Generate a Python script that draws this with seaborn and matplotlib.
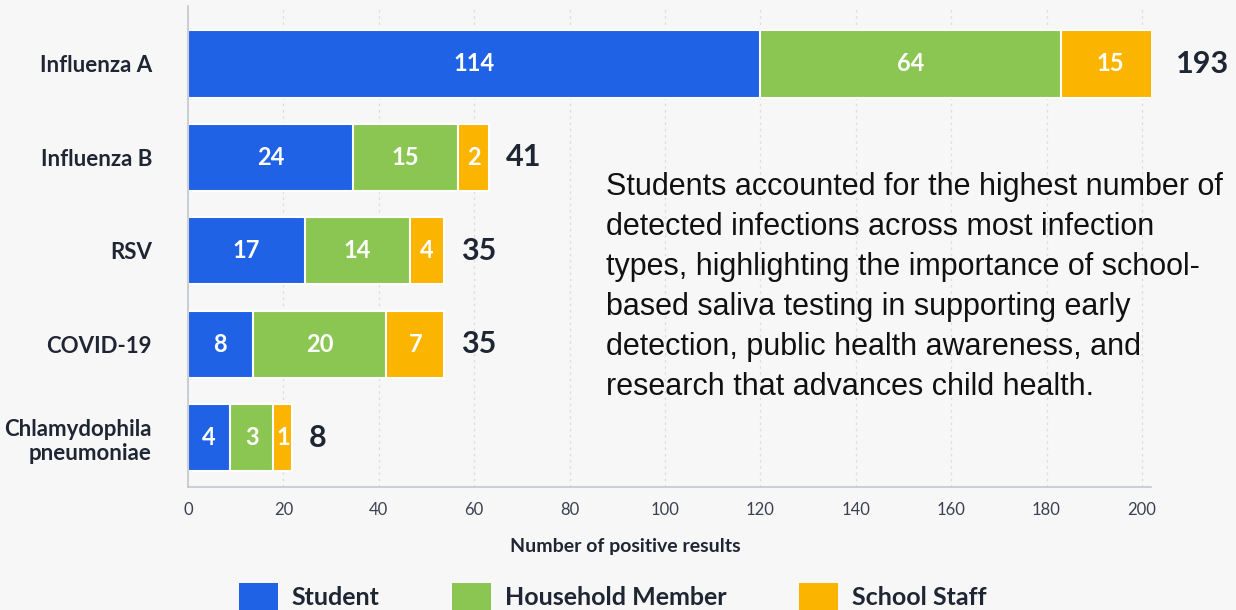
import numpy as np
import pandas as pd
import seaborn as sns
import matplotlib.pyplot as plt
from matplotlib.patches import Patch

# categories and groups
infections = ["Influenza A", "Influenza B", "RSV", "COVID-19", "Chlamydophila\npneumoniae"]
groups = ["Student", "Household Member", "School Staff"]

# counts printed inside the bars
student_n = [114, 24, 17, 8, 4]
household_n = [64, 15, 14, 20, 3]
staff_n = [15, 2, 4, 7, 1]
totals = [193, 41, 35, 35, 8]

# segment lengths as drawn in the picture (bars are not to scale with the counts)
student_len = [119.9, 34.6, 24.5, 13.6, 8.8]
household_len = [63.1, 22.1, 22.0, 28.0, 9.1]
staff_len = [20.7, 6.4, 7.2, 12.1, 4.0]

colors = ["#1f62e5", "#8bc653", "#fbb500"]
dark = "#1f2633"
bg = "#f7f7f7"

df = pd.DataFrame({"infection": infections,
                   "student": student_len,
                   "household": household_len,
                   "staff": staff_len})
df["cum1"] = df["student"]
df["cum2"] = df["cum1"] + df["household"]
df["cum3"] = df["cum2"] + df["staff"]

sns.set_theme(style="white")
plt.rcParams["font.family"] = ["Lato", "DejaVu Sans"]

fig = plt.figure(figsize=(12.36, 6.10), dpi=100, facecolor=bg)
ax = fig.add_axes([0.1521, 0.2016, 0.7795, 0.7885], facecolor=bg)

# stacked bars: draw cumulative totals back to front
for col, c in zip(["cum3", "cum2", "cum1"], colors[::-1]):
    sns.barplot(data=df, x=col, y="infection", orient="h", color=c, width=0.72,
                edgecolor="white", linewidth=1.5, saturation=1, ax=ax)

ax.set_xlim(0, 202)
ax.set_ylim(4.53, -0.62)
ax.set_xticks(np.arange(0, 201, 20))
ax.grid(axis="x", color="#dcdcdc", linestyle=(0, (2, 3)), linewidth=0.9)
ax.set_axisbelow(True)
for s in ["top", "right"]:
    ax.spines[s].set_visible(False)
ax.spines["left"].set_color("#c3c7cd")
ax.spines["bottom"].set_color("#c3c7cd")
ax.spines["left"].set_linewidth(1.2)
ax.spines["bottom"].set_linewidth(1.2)

ax.tick_params(axis="x", length=0, pad=11, labelsize=12, labelcolor="#3a4150")
ax.tick_params(axis="y", length=0, pad=26)
ax.set_yticks(range(len(infections)))
ax.set_yticklabels(infections, fontsize=16, fontweight="bold", color=dark)
ax.set_ylabel("")
ax.set_xlabel("Number of positive results", fontsize=14, fontweight="bold", color=dark)
ax.xaxis.set_label_coords((625 - 188) / 963.5, -0.105)

# numbers in the segments and totals at the bar ends
for i in range(len(infections)):
    starts = [0, df["cum1"][i], df["cum2"][i]]
    lens = [student_len[i], household_len[i], staff_len[i]]
    nums = [student_n[i], household_n[i], staff_n[i]]
    for s, l, n in zip(starts, lens, nums):
        ax.text(s + l / 2, i, str(n), ha="center", va="center",
                color="white", fontsize=17, fontweight="bold")
    ax.annotate(str(totals[i]), (df["cum3"][i], i), xytext=(12, 0),
                textcoords="offset points", ha="left", va="center",
                fontsize=22, fontweight="bold", color=dark, annotation_clip=False)

# note on the right
note = ["Students accounted for the highest number of",
        "detected infections across most infection",
        "types, highlighting the importance of school-",
        "based saliva testing in supporting early",
        "detection, public health awareness, and",
        "research that advances child health."]
for k, line in enumerate(note):
    fig.text(606 / 1236, 1 - (195 + 40 * k) / 610, line, ha="left", va="baseline",
             fontsize=22, color="#111111", family=["Liberation Sans", "DejaVu Sans"])

handles = [Patch(facecolor=c, edgecolor="none") for c in colors]
fig.legend(handles, groups, loc="center", bbox_to_anchor=(0.4956, 1 - 597 / 610),
           ncol=3, frameon=False, handlelength=1.55, handleheight=1.4,
           handletextpad=0.56, columnspacing=2.9, labelcolor=dark,
           prop={"weight": "bold", "size": 18})

fig.savefig("out.png", dpi=100, facecolor=bg)
